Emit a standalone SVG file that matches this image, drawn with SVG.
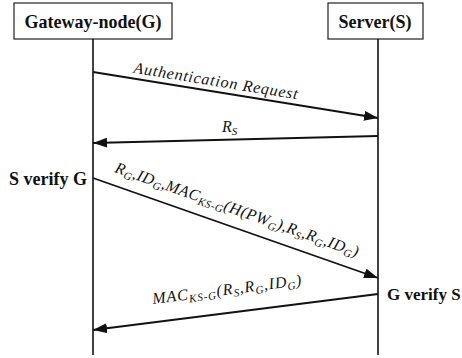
<svg xmlns="http://www.w3.org/2000/svg" width="462" height="358" viewBox="0 0 462 358" font-family="'Liberation Serif', 'Times New Roman', Times, serif">
<style>
.box{fill:#fff;stroke:#222;stroke-width:1.2}
.hd{font-family:'Liberation Serif','Times New Roman',Times,serif;font-weight:700;font-size:18px;fill:#111}
.life{stroke:#111;stroke-width:1.6;fill:none}
.msg{stroke:#111;stroke-width:1.8;fill:none;marker-end:url(#ah)}
.lb{font-family:'Liberation Serif','Times New Roman',Times,serif;font-style:italic;font-size:16px;fill:#111}
.sb{font-size:11px}
</style>
<defs>
<marker id="ah" markerUnits="userSpaceOnUse" markerWidth="16" markerHeight="12" refX="14" refY="5" orient="auto">
<path d="M0,0 L14,5 L0,10 z" fill="#111"/>
</marker>
</defs>
<g id="node-gateway">
<rect class="box" x="14" y="3" width="158" height="36"/>
<text class="hd" x="93" y="28" text-anchor="middle">Gateway-node(G)</text>
<line class="life" x1="93" y1="39" x2="93" y2="355"/>
</g>
<g id="node-server">
<rect class="box" x="328" y="3" width="95" height="36"/>
<text class="hd" x="375" y="28" text-anchor="middle">Server(S)</text>
<line class="life" x1="378" y1="39" x2="378" y2="355"/>
</g>
<g id="note-s-verify">
<text class="hd" x="87" y="185" text-anchor="end">S verify G</text>
</g>
<g id="note-g-verify">
<text class="hd" x="387" y="300" style="font-size:17px">G verify S</text>
</g>
<g id="connectors">
<line class="msg" x1="93" y1="72" x2="378" y2="118"/>
<line class="msg" x1="378" y1="136" x2="93" y2="143"/>
<line class="msg" x1="93" y1="178" x2="378" y2="278"/>
<line class="msg" x1="378" y1="294" x2="93" y2="330"/>
</g>
<g id="labels">
<text class="lb" transform="translate(215,86) rotate(9.2)" text-anchor="middle" textLength="166" lengthAdjust="spacing">Authentication Request</text>
<text class="lb" x="222" y="132">R<tspan class="sb" dy="3">S</tspan></text>
<text class="lb" transform="translate(114,172) rotate(19.3)" textLength="257" lengthAdjust="spacing">R<tspan class="sb" dy="3">G</tspan><tspan dy="-3">,ID</tspan><tspan class="sb" dy="3">G</tspan><tspan dy="-3">,MAC</tspan><tspan class="sb" dy="3">KS-G</tspan><tspan dy="-3">(H(PW</tspan><tspan class="sb" dy="3">G</tspan><tspan dy="-3">),R</tspan><tspan class="sb" dy="3">S</tspan><tspan dy="-3">,R</tspan><tspan class="sb" dy="3">G</tspan><tspan dy="-3">,ID</tspan><tspan class="sb" dy="3">G</tspan><tspan dy="-3">)</tspan></text>
<text class="lb" transform="translate(153,304) rotate(-7.2)" textLength="150" lengthAdjust="spacing">MAC<tspan class="sb" dy="3">KS-G</tspan><tspan dy="-3">(R</tspan><tspan class="sb" dy="3">S</tspan><tspan dy="-3">,R</tspan><tspan class="sb" dy="3">G</tspan><tspan dy="-3">,ID</tspan><tspan class="sb" dy="3">G</tspan><tspan dy="-3">)</tspan></text>
</g>
</svg>
